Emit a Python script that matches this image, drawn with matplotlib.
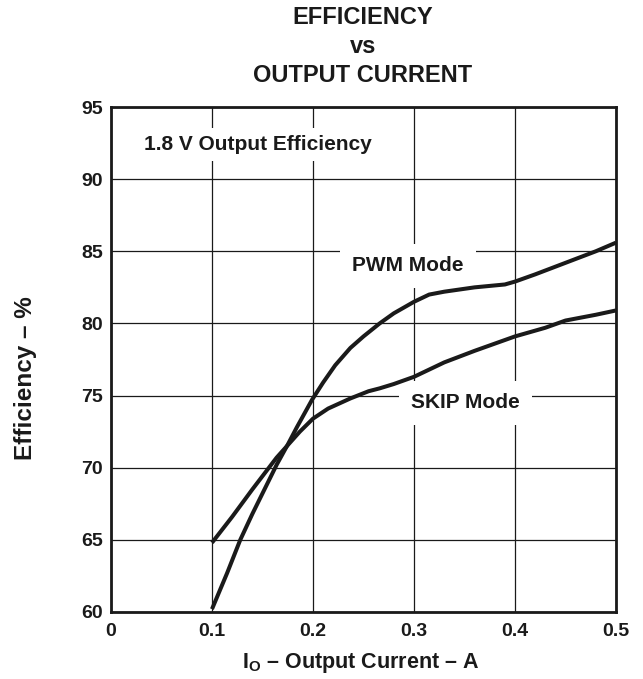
import matplotlib
matplotlib.use("Agg")
import matplotlib.pyplot as plt

plt.rcParams["font.family"] = ["Liberation Sans", "DejaVu Sans"]
plt.rcParams["font.weight"] = "bold"
plt.rcParams["mathtext.fontset"] = "custom"
plt.rcParams["mathtext.rm"] = "Liberation Sans:bold"

# efficiency curves, output current in A, efficiency in %
pwm_current = [0.1, 0.115, 0.128, 0.14, 0.152, 0.164, 0.175, 0.184, 0.199, 0.21,
               0.222, 0.237, 0.25, 0.266, 0.28, 0.3, 0.315, 0.33, 0.36, 0.39,
               0.4, 0.42, 0.45, 0.48, 0.5]
pwm_eff = [60.2, 62.7, 65.0, 66.8, 68.5, 70.2, 71.6, 72.8, 74.7, 75.9,
           77.1, 78.3, 79.1, 80.0, 80.7, 81.5, 82.0, 82.2, 82.5, 82.7,
           82.9, 83.4, 84.2, 85.0, 85.6]

skip_current = [0.1, 0.12, 0.14, 0.164, 0.187, 0.2, 0.215, 0.237, 0.255, 0.266,
                0.28, 0.3, 0.33, 0.36, 0.4, 0.43, 0.45, 0.48, 0.5]
skip_eff = [64.8, 66.6, 68.5, 70.7, 72.5, 73.4, 74.1, 74.8, 75.3, 75.5,
            75.8, 76.3, 77.3, 78.1, 79.1, 79.7, 80.2, 80.6, 80.9]

x_ticks = [0, 0.1, 0.2, 0.3, 0.4, 0.5]
x_labels = ["0", "0.1", "0.2", "0.3", "0.4", "0.5"]
y_ticks = [60, 65, 70, 75, 80, 85, 90, 95]

ink = "#1a1a1a"

fig = plt.figure(figsize=(6.43, 6.79), dpi=100)
ax = fig.add_axes([0.1726, 0.0987, 0.7854, 0.7437])

for xs, ys in [(pwm_current, pwm_eff), (skip_current, skip_eff)]:
    ax.plot(xs, ys, color=ink, lw=2.9, solid_joinstyle="round",
            solid_capstyle="butt", zorder=4)

ax.set_xlim(0, 0.5)
ax.set_ylim(60, 95)
ax.set_xticks(x_ticks)
ax.set_xticklabels(x_labels)
ax.set_yticks(y_ticks)
ax.tick_params(axis="x", length=0, labelsize=14, pad=8)
ax.tick_params(axis="y", length=0, labelsize=14, pad=6)
for lbl in ax.get_xticklabels() + ax.get_yticklabels():
    lbl.set_fontweight("bold")
    lbl.set_color(ink)

ax.grid(True, color=ink, lw=0.9, zorder=1)
ax.set_axisbelow(True)
for sp in ax.spines.values():
    sp.set_linewidth(2.0)
    sp.set_color(ink)

ax.text(0.1455, 92.4, "1.8 V Output Efficiency", fontsize=15, fontweight="bold",
        ha="center", va="center", color=ink,
        bbox=dict(facecolor="white", edgecolor="none", pad=5), zorder=3)
ax.text(0.294, 84.0, "PWM Mode", fontsize=15, fontweight="bold",
        ha="center", va="center", color=ink,
        bbox=dict(facecolor="white", edgecolor="none", pad=9), zorder=3)
ax.text(0.351, 74.5, "SKIP Mode", fontsize=15, fontweight="bold",
        ha="center", va="center", color=ink,
        bbox=dict(facecolor="white", edgecolor="none", pad=9), zorder=3)

fig.text(0.5607, 0.0162, r"$\mathrm{I_O}$ – Output Current – A", fontsize=15.5,
         fontweight="bold", ha="center", va="baseline", color=ink)
fig.text(0.039, 0.443, "Efficiency – %", fontsize=17.5, fontweight="bold",
         rotation=90, ha="center", va="center", color=ink)

title_lines = ["EFFICIENCY", "vs", "OUTPUT CURRENT"]
title_y = [0.9647, 0.922, 0.879]
for line, ty in zip(title_lines, title_y):
    fig.text(0.5646, ty, line, fontsize=17, fontweight="bold",
             ha="center", va="baseline", color=ink)

fig.savefig("out.png", dpi=100)
